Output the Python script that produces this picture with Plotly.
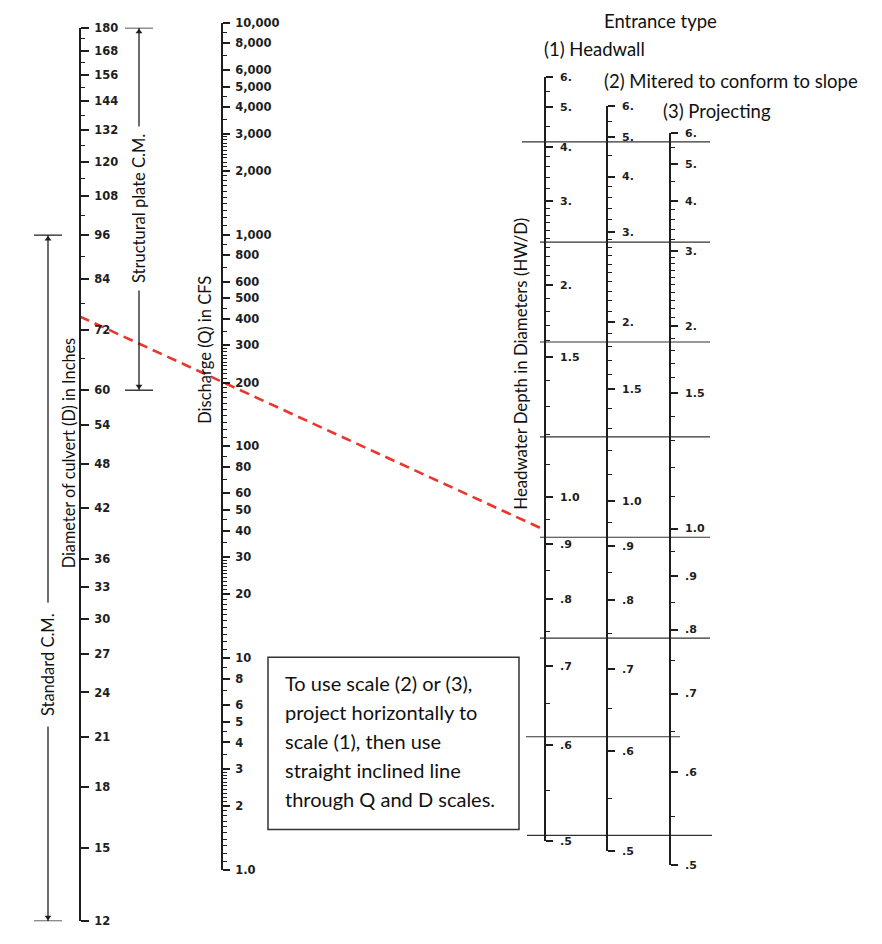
import numpy as np
import plotly.graph_objects as go

# ---------------- data ----------------
D_TICKS = [12, 15, 18, 21, 24, 27, 30, 33, 36, 42, 48, 54, 60, 72, 84, 96,
           108, 120, 132, 144, 156, 168, 180]
D_MINOR = [66, 78, 90, 102, 114, 126, 138, 150, 162, 174]

Q_TICKS = [1, 2, 3, 4, 5, 6, 8, 10, 20, 30, 40, 50, 60, 80, 100, 200, 300, 400,
           500, 600, 800, 1000, 2000, 3000, 4000, 5000, 6000, 8000, 10000]
Q_LABELS = ["1.0", "2", "3", "4", "5", "6", "8", "10", "20", "30", "40", "50",
            "60", "80", "100", "200", "300", "400", "500", "600", "800", "1,000",
            "2,000", "3,000", "4,000", "5,000", "6,000", "8,000", "10,000"]
Q_MINOR_PATTERN = [1.1, 1.2, 1.3, 1.4, 1.5, 1.6, 1.7, 1.8, 1.9,
                   2.1, 2.2, 2.3, 2.4, 2.5, 2.6, 2.7, 2.8, 2.9, 3.5, 4.5, 7, 9]

HW_VALUES = [6, 5, 4, 3, 2, 1.5, 1.0, 0.9, 0.8, 0.7, 0.6, 0.5]
HW_LABELS = ["6.", "5.", "4.", "3.", "2.", "1.5", "1.0", ".9", ".8", ".7", ".6", ".5"]
HW_MINOR = [0.55, 0.65, 0.75, 0.85, 0.95, 1.1, 1.2, 1.3, 1.4, 1.6, 1.7, 1.8, 1.9,
            2.1, 2.2, 2.3, 2.4, 2.5, 2.6, 2.7, 2.8, 2.9,
            3.2, 3.4, 3.6, 3.8, 4.5, 5.5]
# Q / D^2.5 (D in ft) at each HW/D graduation
K_HEADWALL = [9.45, 8.54, 7.49, 6.26, 4.73, 3.73, 2.34, 2.006, 1.670, 1.337, 1.029, 0.747]
K_MITERED = [8.57, 7.74, 6.79, 5.64, 4.19, 3.35, 2.31, 1.993, 1.665, 1.324, 1.009, 0.723]
K_PROJECTING = [7.85, 7.07, 6.26, 5.30, 4.13, 3.31, 2.11, 1.80, 1.509, 1.220, 0.939, 0.691]
GUIDE_K = [7.62, 5.46, 3.92, 2.86, 2.05, 1.466, 1.057, 0.762]

D_EXAMPLE = 75     # inches
Q_EXAMPLE = 205    # cfs

ENTRANCE_TYPES = ["(1) Headwall", "(2) Mitered to conform to slope", "(3) Projecting"]
NOTE_LINES = ["To use scale (2) or (3),", "project horizontally to",
              "scale (1), then use", "straight inclined line",
              "through Q and D scales."]

# ---------------- geometry (pixels) ----------------
W, H = 882, 944
X_D, X_Q = 80, 222
X_HW = [545, 607, 670]
D_TOP, D_BOT = 21, 928
Q_TOP, Q_BOT = 16, 876
GUIDE_X0 = [522, 540, 540, 540, 540, 540, 526, 527]
GUIDE_X1 = [710, 710, 710, 710, 710, 710, 680, 712]

INK = "#1e1e1e"
RED = "#e8372c"
TXT = "Lato"
NUM = "DejaVu Sans"

d_lo, d_hi = np.log10(min(D_TICKS)), np.log10(max(D_TICKS))
q_lo, q_hi = np.log10(min(Q_TICKS)), np.log10(max(Q_TICKS))
sD = (D_BOT - D_TOP) / (d_hi - d_lo)
sQ = (Q_BOT - Q_TOP) / (q_hi - q_lo)


def y_D(d):
    return D_BOT - sD * (np.log10(d) - d_lo)


def y_Q(q):
    return Q_BOT - sQ * (np.log10(q) - q_lo)


t_hw = (X_HW[0] - X_D) / (X_Q - X_D)


def y_K(k):
    # straight line from D = 1 ft through Q = k, extended to scale (1)
    return (1 - t_hw) * y_D(12) + t_hw * y_Q(k)


def pdom(y_bottom, y_top):
    return [1 - y_bottom / H, 1 - y_top / H]


def tickfont(size):
    return dict(family=NUM, size=size, color=INK, weight="bold")


def scale_axis(xpx, dom, rng, tv, tt, minor, ticklen, fsize, standoff):
    return dict(type="log", domain=dom, range=rng, anchor="free", position=xpx / W,
                side="right", showline=True, linecolor=INK, linewidth=1.7,
                ticks="outside", ticklen=ticklen, tickwidth=1.7, tickcolor=INK,
                tickmode="array", tickvals=tv, ticktext=tt, tickfont=tickfont(fsize),
                ticklabelstandoff=standoff,
                showgrid=False, zeroline=False, fixedrange=True,
                minor=dict(tickmode="array", tickvals=minor, ticks="outside",
                           ticklen=max(3, ticklen * 0.55), tickwidth=1.4,
                           tickcolor=INK, showgrid=False))


eps = 1e-4
fig = go.Figure()

# D scale + brackets
for xb, lo, hi in [(48, 12, 96), (139, 60, 180)]:
    fig.add_trace(go.Scatter(x=[xb, xb], y=[lo, hi], mode="lines",
                             line=dict(color=INK, width=1.3), yaxis="y2",
                             hoverinfo="skip", showlegend=False))
    for v in (lo, hi):
        fig.add_trace(go.Scatter(x=[xb - 14, xb + 14], y=[v, v], mode="lines",
                                 line=dict(color=INK, width=1.3), yaxis="y2",
                                 hoverinfo="skip", showlegend=False))
    fig.add_trace(go.Scatter(x=[xb, xb], y=[lo * 1.012, hi / 1.012], mode="markers",
                             marker=dict(symbol=["triangle-down", "triangle-up"],
                                         size=6, color=INK),
                             yaxis="y2", hoverinfo="skip", showlegend=False))

# Q scale anchor trace
fig.add_trace(go.Scatter(x=[X_Q], y=[Q_TICKS[0]], mode="markers",
                         marker=dict(opacity=0), yaxis="y3",
                         hoverinfo="skip", showlegend=False))

# guide lines across HW scales (constant Q/D^2.5)
gx, gy = [], []
for k, x0, x1 in zip(GUIDE_K, GUIDE_X0, GUIDE_X1):
    gx += [x0, x1, None]
    gy += [k, k, None]
fig.add_trace(go.Scatter(x=gx, y=gy, mode="lines", line=dict(color="#333", width=1.2),
                         yaxis="y4", hoverinfo="skip", showlegend=False))
for ax in ("y5", "y6"):
    fig.add_trace(go.Scatter(x=[X_HW[1]], y=[1.0], mode="markers",
                             marker=dict(opacity=0), yaxis=ax,
                             hoverinfo="skip", showlegend=False))

# example line (D, Q -> HW/D)
k_ex = Q_EXAMPLE / (D_EXAMPLE / 12) ** 2.5
fig.add_trace(go.Scatter(x=[X_D, X_HW[0]], y=[y_D(D_EXAMPLE), y_K(k_ex)], mode="lines",
                         line=dict(color=RED, width=2.6, dash="10px,6px"),
                         hoverinfo="skip", showlegend=False))

q_minor = [p * 10 ** e for e in range(4) for p in Q_MINOR_PATTERN]

layout_axes = {}
layout_axes["yaxis2"] = scale_axis(X_D, pdom(D_BOT, D_TOP), [d_lo - eps, d_hi + eps],
                                   D_TICKS, [str(v) for v in D_TICKS], D_MINOR, 8, 11.5, 3)
layout_axes["yaxis3"] = scale_axis(X_Q, pdom(Q_BOT, Q_TOP), [q_lo - eps, q_hi + eps],
                                   Q_TICKS, Q_LABELS, q_minor, 7, 11.5, 3)
for i, K in enumerate([K_HEADWALL, K_MITERED, K_PROJECTING]):
    hw_sorted = np.array(HW_VALUES[::-1])
    lk_sorted = np.log10(np.array(K[::-1]))
    k_minor = list(10 ** np.interp(np.log10(HW_MINOR), np.log10(hw_sorted), lk_sorted))
    k_lo, k_hi = min(K), max(K)
    layout_axes["yaxis%d" % (4 + i)] = scale_axis(
        X_HW[i], pdom(y_K(k_lo), y_K(k_hi)),
        [np.log10(k_lo) - eps, np.log10(k_hi) + eps],
        K, HW_LABELS, k_minor, 7, 11, 5)

fig.update_layout(
    width=W, height=H, margin=dict(l=0, r=0, t=0, b=0),
    paper_bgcolor="white", plot_bgcolor="rgba(0,0,0,0)",
    xaxis=dict(range=[0, W], domain=[0, 1], visible=False, fixedrange=True),
    yaxis=dict(range=[H, 0], domain=[0, 1], visible=False, fixedrange=True),
    **layout_axes,
)

# box for the note
fig.add_shape(type="rect", x0=268, x1=519, y0=660, y1=835, xref="x", yref="y",
              line=dict(color="#333", width=1.5), fillcolor="rgba(0,0,0,0)")


def ann(x, y, text, size=16, xanchor="left", angle=0, bg=None, pad=0):
    fig.add_annotation(x=x, y=y, xref="x", yref="y", text=text, showarrow=False,
                       xanchor=xanchor, yanchor="middle", textangle=angle,
                       font=dict(family=TXT, size=size, color="#111"),
                       bgcolor=bg, borderpad=pad)


for i, line in enumerate(NOTE_LINES):
    ann(284, 686 + i * 29.5, line, size=20)

ann(660, 14, "Entrance type", size=18.5, xanchor="center")
ann(543, 43, ENTRANCE_TYPES[0], size=18.5)
ann(603, 75, ENTRANCE_TYPES[1], size=18.5)
ann(662, 106, ENTRANCE_TYPES[2], size=18.5)

ann(68, 453, "Diameter of culvert (D) in Inches", size=16.3, xanchor="center", angle=-90)
ann(205, 348, "Discharge (Q) in CFS", size=16.5, xanchor="center", angle=-90)
ann(521, 362, "Headwater Depth in Diameters (HW/D)", size=16.8, xanchor="center", angle=-90)
ann(139, 205, "Structural plate C.M.", size=16.5, xanchor="center", angle=-90,
    bg="white", pad=7)
ann(48, 668, "Standard C.M.", size=16.5, xanchor="center", angle=-90,
    bg="white", pad=10)

fig.write_html("out.html", config={"displayModeBar": False},
               post_script="document.body.style.margin='0';")
